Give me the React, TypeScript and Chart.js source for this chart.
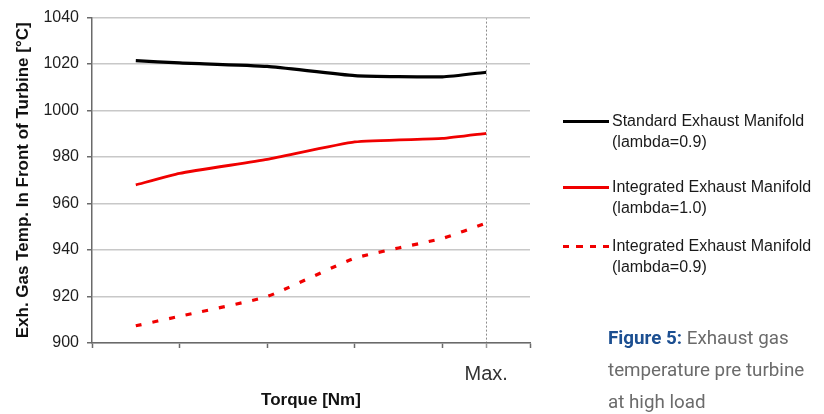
import { useEffect, useRef } from 'react';
import { Chart, registerables } from 'chart.js';

Chart.register(...registerables);

// ---- data ----
const torquePositions = [0.5, 1, 2, 3, 4, 4.5];
const standardLambda09 = [1021.5, 1020.5, 1019, 1015, 1014.5, 1016.5];
const integratedLambda10 = [968, 973, 979, 986.5, 988, 990.2];
const integratedLambda09 = [907.4, 911.5, 920, 936.5, 945, 951.6];
const xTickValues = [0, 1, 2, 3, 4, 4.5, 5];
const maxTorquePosition = 4.5;
const maxTorqueLabel = 'Max.';
const yMin = 900;
const yMax = 1040;
const yStep = 20;
const seriesNames = [
  ['Standard Exhaust Manifold', '(lambda=0.9)'],
  ['Integrated Exhaust Manifold', '(lambda=1.0)'],
  ['Integrated Exhaust Manifold', '(lambda=0.9)'],
];
const xTitle = 'Torque [Nm]';
const yTitle = 'Exh. Gas Temp. In Front of Turbine [°C]';

const FONT = '"Liberation Sans", Arial, sans-serif';
const RED = '#f00000';

export default function App() {
  const canvasRef = useRef<HTMLCanvasElement | null>(null);

  useEffect(() => {
    if (!canvasRef.current) return;
    const pts = (ys: number[]) => torquePositions.map((x, i) => ({ x, y: ys[i] }));
    const chart = new Chart(canvasRef.current, {
      type: 'line',
      data: {
        datasets: [
          {
            label: seriesNames[0].join(' '),
            data: pts(standardLambda09),
            borderColor: '#000000',
            borderWidth: 3.2,
            pointRadius: 0,
            tension: 0.15,
            fill: false,
          },
          {
            label: seriesNames[1].join(' '),
            data: pts(integratedLambda10),
            borderColor: RED,
            borderWidth: 2.8,
            pointRadius: 0,
            tension: 0.15,
            fill: false,
          },
          {
            label: seriesNames[2].join(' '),
            data: pts(integratedLambda09),
            borderColor: RED,
            borderWidth: 3.2,
            borderDash: [6, 11],
            pointRadius: 0,
            tension: 0.15,
            fill: false,
          },
        ],
      },
      options: {
        responsive: false,
        animation: false,
        events: [],
        layout: { padding: { top: 14, right: 294, left: 0, bottom: 0 } },
        plugins: { legend: { display: false }, tooltip: { enabled: false } },
        scales: {
          x: {
            type: 'linear',
            min: 0,
            max: 5,
            afterBuildTicks: (s: any) => {
              s.ticks = xTickValues.map((v) => ({ value: v }));
            },
            afterFit: (s: any) => {
              s.height = 71;
            },
            ticks: {
              autoSkip: false,
              maxRotation: 0,
              padding: 14,
              color: '#333333',
              font: { family: FONT, size: 20 },
              callback: (v: any) => (Number(v) === maxTorquePosition ? maxTorqueLabel : ''),
            },
            grid: {
              lineWidth: 1,
              tickLength: 5,
              color: (ctx: any) =>
                ctx.tick && ctx.tick.value === maxTorquePosition ? '#8c8c8c' : 'rgba(0,0,0,0)',
              tickColor: (ctx: any) =>
                ctx.tick && ctx.tick.value === maxTorquePosition ? '#9a9a9a' : '#6a6a6a',
              tickWidth: 1.5,
            },
            border: {
              color: '#6a6a6a',
              width: 1.5,
              dash: (ctx: any) =>
                ctx.tick && ctx.tick.value === maxTorquePosition ? [2, 2] : [],
            },
            title: {
              display: true,
              text: xTitle,
              color: '#111111',
              font: { family: FONT, size: 17, weight: 'bold' },
              padding: { top: 0, bottom: 3 },
            },
          },
          y: {
            min: yMin,
            max: yMax,
            afterFit: (s: any) => {
              s.width = 92;
            },
            ticks: {
              stepSize: yStep,
              padding: 8,
              color: '#1e1e1e',
              font: { family: FONT, size: 16 },
              callback: (v: any) => String(v),
            },
            grid: {
              color: '#c8c8c8',
              lineWidth: 1.5,
              tickLength: 5,
              tickColor: '#6a6a6a',
            },
            border: { color: '#6a6a6a', width: 1.5 },
            title: {
              display: true,
              text: yTitle,
              color: '#111111',
              font: { family: FONT, size: 17, weight: 'bold' },
              padding: { top: 13, bottom: 0 },
            },
          },
        },
      },
    } as any);
    return () => chart.destroy();
  }, []);

  const legendTop = [121, 187, 246];
  const lineStyle = (i: number): any => {
    if (i === 2) {
      return {
        background: `repeating-linear-gradient(to right, ${RED} 0px, ${RED} 6px, transparent 6px, transparent 13.5px)`,
      };
    }
    return { background: i === 0 ? '#000' : RED };
  };

  return (
    <div
      style={{
        position: 'absolute',
        left: 0,
        top: 0,
        width: 824,
        height: 414,
        background: '#ffffff',
        overflow: 'hidden',
      }}
    >
      <canvas ref={canvasRef} width={824} height={414} style={{ position: 'absolute', left: 0, top: 0 }} />
      {seriesNames.map((name, i) => (
        <div key={i}>
          <div
            style={{
              position: 'absolute',
              left: 563,
              top: legendTop[i] - 1.5,
              width: 46,
              height: 3,
              ...lineStyle(i),
            }}
          />
          <div
            style={{
              position: 'absolute',
              left: 612,
              top: legendTop[i] - 11,
              fontFamily: FONT,
              fontSize: 16,
              lineHeight: '21px',
              color: '#1a1a1a',
              whiteSpace: 'nowrap',
            }}
          >
            {name[0]}
            <br />
            {name[1]}
          </div>
        </div>
      ))}
      <div
        style={{
          position: 'absolute',
          left: 608,
          top: 322,
          fontFamily: 'Roboto, sans-serif',
          fontSize: 18.8,
          lineHeight: '32px',
          color: '#6b6b6b',
          whiteSpace: 'nowrap',
        }}
      >
        <span style={{ color: '#1c4f91', fontWeight: 'bold' }}>Figure 5:</span> Exhaust gas
        <br />
        temperature pre turbine
        <br />
        at high load
      </div>
    </div>
  );
}
